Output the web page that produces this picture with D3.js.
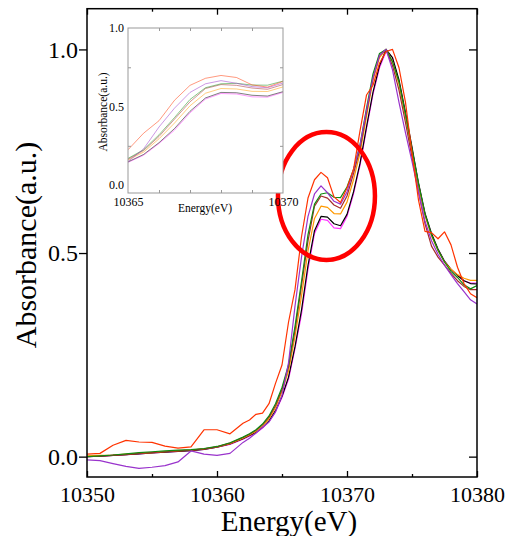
<!DOCTYPE html>
<html>
<head>
<meta charset="utf-8">
<script src="https://cdn.jsdelivr.net/npm/d3@7"></script>
<style>
  body { margin: 0; background: #fff; }
  svg { display: block; }
</style>
</head>
<body>
<script>
// energy grid (eV), 1 eV steps in pre-edge, 0.5 eV after
const energy = [10350,10351,10352,10353,10354,10355,10356,10357,10358,10359,10360,10361,10362,
  10362.5,10363,10363.5,10364,10364.5,10365,10365.5,10366,10366.5,10367,10367.5,10368,10368.5,
  10369,10369.5,10370,10370.5,10371,10371.5,10372,10372.5,10373,10373.5,10374,10374.5,10375,
  10375.5,10376,10376.5,10377,10377.5,10378,10378.5,10379,10379.5,10380];

const absRed = [0.006,0.008,0.028,0.040,0.036,0.035,0.026,0.021,0.024,0.066,0.066,0.056,0.082,
  0.090,0.104,0.107,0.130,0.180,0.225,0.330,0.410,0.540,0.635,0.680,0.698,0.685,
  0.638,0.624,0.660,0.705,0.800,0.888,0.912,0.966,0.995,1.000,0.955,0.870,0.745,
  0.630,0.553,0.550,0.535,0.552,0.520,0.465,0.425,0.400,0.390];
const absPurple = [-0.008,-0.010,-0.017,-0.024,-0.029,-0.026,-0.022,-0.013,0.014,0.006,0.003,0.008,0.035,
  0.045,0.058,0.072,0.085,0.110,0.150,0.230,0.370,0.490,0.590,0.645,0.665,0.648,
  0.627,0.620,0.650,0.705,0.765,0.850,0.930,0.985,1.000,0.950,0.870,0.795,0.725,
  0.650,0.578,0.530,0.497,0.470,0.447,0.425,0.405,0.385,0.375];
const absGreen = [0.000,0.002,0.004,0.007,0.010,0.012,0.014,0.016,0.017,0.020,0.025,0.034,0.048,
  0.056,0.066,0.080,0.100,0.130,0.170,0.225,0.320,0.430,0.545,0.620,0.645,0.648,
  0.637,0.636,0.662,0.705,0.765,0.855,0.940,0.990,1.000,0.970,0.920,0.840,0.755,
  0.670,0.595,0.545,0.507,0.478,0.455,0.440,0.422,0.412,0.420];
const absBrown = [0.000,0.001,0.003,0.005,0.008,0.010,0.012,0.014,0.016,0.019,0.024,0.033,0.047,
  0.055,0.065,0.078,0.097,0.125,0.165,0.220,0.310,0.420,0.530,0.615,0.640,0.635,
  0.618,0.610,0.640,0.695,0.755,0.845,0.930,0.985,1.000,0.960,0.900,0.820,0.735,
  0.650,0.572,0.517,0.490,0.470,0.450,0.432,0.418,0.410,0.410];
const absOrange = [0.002,0.003,0.004,0.006,0.008,0.010,0.012,0.014,0.016,0.019,0.024,0.032,0.045,
  0.053,0.062,0.075,0.093,0.120,0.160,0.210,0.295,0.395,0.505,0.585,0.615,0.612,
  0.597,0.596,0.625,0.680,0.745,0.835,0.925,0.980,1.000,0.970,0.915,0.835,0.750,
  0.665,0.592,0.542,0.506,0.478,0.460,0.447,0.438,0.433,0.433];
const absBlack = [0.000,0.001,0.003,0.005,0.007,0.009,0.011,0.013,0.015,0.018,0.023,0.031,0.044,
  0.052,0.060,0.072,0.088,0.113,0.148,0.195,0.270,0.360,0.470,0.555,0.590,0.588,
  0.572,0.567,0.595,0.650,0.720,0.810,0.895,0.960,1.000,0.980,0.925,0.845,0.760,
  0.672,0.598,0.548,0.510,0.480,0.460,0.445,0.432,0.425,0.424];
const absMagenta = [0.000,0.001,0.003,0.005,0.007,0.009,0.011,0.013,0.015,0.018,0.023,0.030,0.043,
  0.050,0.058,0.070,0.086,0.110,0.145,0.190,0.265,0.350,0.460,0.548,0.583,0.580,
  0.562,0.560,0.590,0.645,0.715,0.805,0.890,0.955,0.995,0.980,0.920,0.840,0.755,
  0.668,0.595,0.545,0.508,0.480,0.460,0.445,0.432,0.426,0.426];

// drawing order, bottom first
const series = [
  {name: "magenta", color: "#ff33ff", values: absMagenta},
  {name: "black",   color: "#000000", values: absBlack},
  {name: "orange",  color: "#ff9900", values: absOrange},
  {name: "brown",   color: "#a52a2a", values: absBrown},
  {name: "green",   color: "#108a10", values: absGreen},
  {name: "purple",  color: "#9933cc", values: absPurple},
  {name: "red",     color: "#ff3300", values: absRed}
];

const xTicks = [10350, 10360, 10370, 10380];
const yTicks = [0.0, 0.5, 1.0];
const insetXTicks = [10365, 10370];
const insetYTicks = [0.0, 0.5, 1.0];
// highlighted shoulder region: centre (eV, a.u.) and radii
const mark = {e: 10368.42, v: 0.64, re: 3.73, rv: 0.157};

const W = 508, H = 536;
const serif = "'Liberation Serif','Times New Roman',serif";

const svg = d3.select("body").append("svg")
    .attr("width", W).attr("height", H)
    .style("font-family", serif);

const x = d3.scaleLinear().domain([10350, 10380]).range([87, 477]);
const y = d3.scaleLinear().domain([-0.05, 1.1]).range([477, 8.7]);

const line = (xs, ys) => d3.line()
    .x((d, i) => xs(energy[i]))
    .y(d => ys(d));

svg.append("clipPath").attr("id", "mainclip")
  .append("rect").attr("x", 87).attr("y", 8.7).attr("width", 390).attr("height", 468.3);

svg.append("g").attr("clip-path", "url(#mainclip)")
  .selectAll("path").data(series).join("path")
    .attr("fill", "none")
    .attr("stroke", d => d.color)
    .attr("stroke-width", 1.2)
    .attr("stroke-linejoin", "round")
    .attr("d", d => line(x, y)(d.values));

// frame
svg.append("rect")
    .attr("x", 87).attr("y", 8.7).attr("width", 390).attr("height", 468.3)
    .attr("fill", "none").attr("stroke", "#000").attr("stroke-width", 1.5);

// axes
const xMinor = d3.range(10355, 10380, 10);
svg.append("g").attr("transform", "translate(0,477)")
    .call(d3.axisBottom(x).tickValues(xTicks).tickSize(-6).tickFormat(d3.format("d")).tickPadding(9))
    .call(g => g.select(".domain").remove())
    .call(g => g.selectAll("text").attr("font-size", 22).attr("font-family", serif).attr("fill", "#000"));
svg.append("g").attr("transform", "translate(0,477)")
    .call(d3.axisBottom(x).tickValues(xMinor).tickSize(-3).tickFormat(""))
    .call(g => g.select(".domain").remove());
svg.append("g").attr("transform", "translate(0,8.7)")
    .call(d3.axisTop(x).tickValues(xTicks).tickSize(-6).tickFormat(""))
    .call(g => g.select(".domain").remove());
svg.append("g").attr("transform", "translate(0,8.7)")
    .call(d3.axisTop(x).tickValues(xMinor).tickSize(-3).tickFormat(""))
    .call(g => g.select(".domain").remove());
svg.append("g").attr("transform", "translate(87,0)")
    .call(d3.axisLeft(y).tickValues(yTicks).tickSize(8).tickPadding(1).tickFormat(d3.format(".1f")))
    .call(g => g.select(".domain").remove())
    .call(g => g.selectAll("text").attr("font-size", 24).attr("font-family", serif).attr("fill", "#000"));
svg.append("g").attr("transform", "translate(477,0)")
    .call(d3.axisRight(y).tickValues(yTicks).tickSize(-8).tickFormat(""))
    .call(g => g.select(".domain").remove());
svg.selectAll(".tick line").attr("stroke", "#000").attr("stroke-width", 1.3);

svg.append("text")
    .attr("x", 289).attr("y", 531)
    .attr("text-anchor", "middle")
    .attr("font-size", 29)
    .text("Energy(eV)");
svg.append("text")
    .attr("transform", "translate(36,245) rotate(-90)")
    .attr("text-anchor", "middle")
    .attr("font-size", 30)
    .text("Absorbance(a.u.)");

// ellipse highlight
svg.append("ellipse")
    .attr("cx", x(mark.e)).attr("cy", y(mark.v))
    .attr("rx", x(mark.e + mark.re) - x(mark.e))
    .attr("ry", y(mark.v - mark.rv) - y(mark.v))
    .attr("fill", "none").attr("stroke", "#ff0000").attr("stroke-width", 4.5);

// ---- inset ----
const ix = d3.scaleLinear().domain([10365, 10370]).range([128, 283]);
const iy = d3.scaleLinear().domain([-0.05, 1.0]).range([193, 28]);
const inset = svg.append("g");

inset.append("rect")
    .attr("x", 128).attr("y", 28).attr("width", 155).attr("height", 165)
    .attr("fill", "#fff");

inset.append("clipPath").attr("id", "insetclip")
  .append("rect").attr("x", 128).attr("y", 28).attr("width", 155).attr("height", 165);

inset.append("g").attr("clip-path", "url(#insetclip)")
  .selectAll("path").data(series).join("path")
    .attr("fill", "none")
    .attr("stroke", d => d.color)
    .attr("stroke-opacity", 0.5)
    .attr("stroke-width", 1)
    .attr("d", d => line(ix, iy)(d.values));

inset.append("rect")
    .attr("x", 128).attr("y", 28).attr("width", 155).attr("height", 165)
    .attr("fill", "none").attr("stroke", "#999").attr("stroke-width", 1);

const iMinorX = d3.range(10366, 10370, 1);
const iMinorY = [0.25, 0.75];
inset.append("g").attr("transform", "translate(0,193)")
    .call(d3.axisBottom(ix).tickValues(insetXTicks).tickSize(0).tickPadding(4).tickFormat(d3.format("d")))
    .call(g => g.select(".domain").remove())
    .call(g => g.selectAll("text").attr("font-size", 12).attr("font-family", serif).attr("fill", "#000"));
inset.append("g").attr("transform", "translate(0,193)")
    .call(d3.axisBottom(ix).tickValues(iMinorX).tickSize(-3).tickFormat(""))
    .call(g => g.select(".domain").remove());
inset.append("g").attr("transform", "translate(0,28)")
    .call(d3.axisTop(ix).tickValues(iMinorX).tickSize(-3).tickFormat(""))
    .call(g => g.select(".domain").remove());
inset.append("g").attr("transform", "translate(128,0)")
    .call(d3.axisLeft(iy).tickValues(insetYTicks).tickSize(0).tickPadding(4).tickFormat(d3.format(".1f")))
    .call(g => g.select(".domain").remove())
    .call(g => g.selectAll("text").attr("font-size", 12).attr("font-family", serif).attr("fill", "#000"));
inset.append("g").attr("transform", "translate(128,0)")
    .call(d3.axisLeft(iy).tickValues(iMinorY).tickSize(-3).tickFormat(""))
    .call(g => g.select(".domain").remove());
inset.append("g").attr("transform", "translate(283,0)")
    .call(d3.axisRight(iy).tickValues(iMinorY).tickSize(-3).tickFormat(""))
    .call(g => g.select(".domain").remove());
inset.selectAll(".tick line").attr("stroke", "#999").attr("stroke-width", 1);

inset.append("text")
    .attr("x", 205).attr("y", 212)
    .attr("text-anchor", "middle")
    .attr("font-size", 11.5)
    .text("Energy(eV)");
inset.append("text")
    .attr("transform", "translate(107,112) rotate(-90)")
    .attr("text-anchor", "middle")
    .attr("font-size", 11.5)
    .text("Absorbance(a.u.)");
</script>
</body>
</html>
